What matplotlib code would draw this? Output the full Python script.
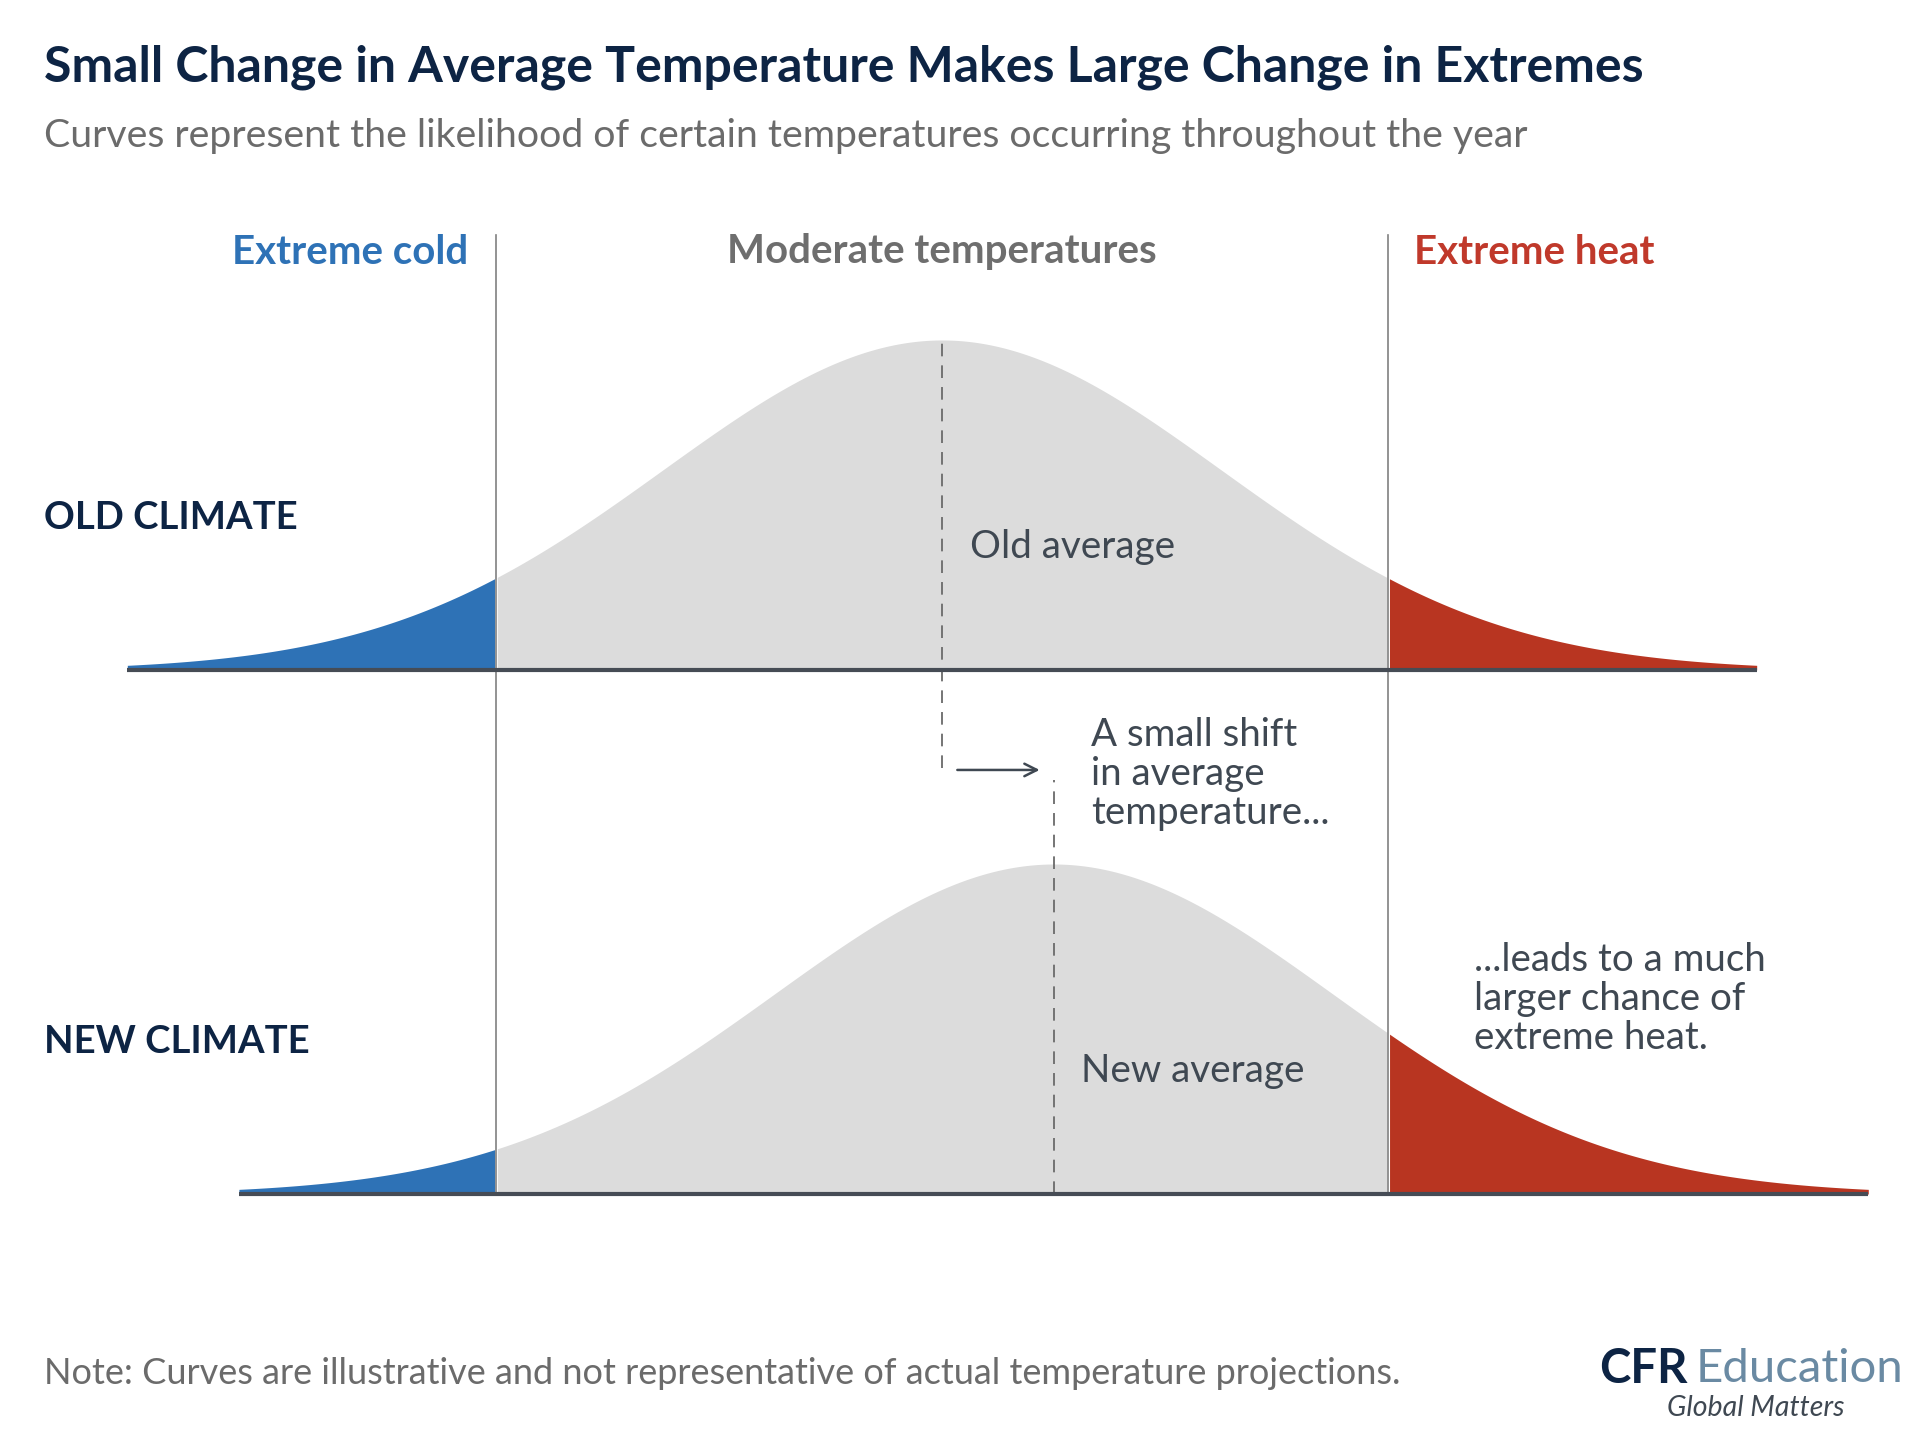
import numpy as np
import matplotlib.pyplot as plt

# illustrative bell curves, x in units of standard deviations
old_mean = 0.0
new_mean = 0.4
sigma = 1.0
cold_limit = -1.6
heat_limit = 1.6
tail_extent = 2.92          # curves drawn out to mean +/- this many sigma
old_base = 1.588            # vertical offset of the old-climate row
new_base = 0.0

title = "Small Change in Average Temperature Makes Large Change in Extremes"
subtitle = "Curves represent the likelihood of certain temperatures occurring throughout the year"
note = "Note: Curves are illustrative and not representative of actual temperature projections."

navy = "#0d2444"
blue = "#2e72b6"
red = "#b83521"
grey_fill = "#dcdcdc"
base_col = "#464c55"
text_col = "#3f4852"

W, H = 1920, 1437
fig = plt.figure(figsize=(W / 100, H / 100), dpi=100)
plt.rcParams['font.family'] = ['Lato', 'DejaVu Sans']
ax = fig.add_axes([0, 0, 1, 1])
# 1 sigma = 279 px, peak height = 330 px
ax.set_xlim(-942 / 279, (W - 942) / 279)
ax.set_ylim((1194 - H) / 330, 1194 / 330)
ax.axis('off')


def px(x, y):
    return x / W, 1 - y / H


def curve(mean, base):
    t = np.linspace(mean - tail_extent, mean + tail_extent, 600)
    y = np.exp(-0.5 * ((t - mean) / sigma) ** 2)
    cold = t <= cold_limit
    heat = t >= heat_limit
    mid = (t >= cold_limit) & (t <= heat_limit)
    ax.fill_between(t[mid], base, base + y[mid], color=grey_fill, lw=0, zorder=1)
    ax.fill_between(t[cold], base, base + y[cold], color=blue, lw=0, zorder=1)
    ax.fill_between(t[heat], base, base + y[heat], color=red, lw=0, zorder=1)
    ax.plot([t[0], t[-1]], [base, base], color=base_col, lw=3, zorder=3,
            solid_capstyle='butt')


curve(old_mean, old_base)
curve(new_mean, new_base)

# threshold lines
for xl in (cold_limit, heat_limit):
    ax.plot([xl, xl], [new_base, 2.906], color="#808080", lw=1.2, zorder=2)

# average lines
ax.plot([old_mean, old_mean], [1.29, old_base + 0.995], color="#6a6a6a", lw=1.3,
        ls=(0, (7, 5)), zorder=2)
ax.plot([new_mean, new_mean], [new_base, 1.255], color="#6a6a6a", lw=1.3,
        ls=(0, (7, 5)), zorder=2)
ax.annotate("", xy=(0.36, 1.285), xytext=(0.045, 1.285),
            arrowprops=dict(arrowstyle="->,head_length=0.9,head_width=0.45",
                            color=text_col, lw=1.8))

# titles
fig.text(*px(44, 67), title, fontsize=36, fontweight='bold', color=navy, va='center')
fig.text(*px(44, 136), subtitle, fontsize=28.3, color="#6b6b6b", va='center')

# zone headers
fig.text(*px(468, 252), "Extreme cold", fontsize=29, fontweight='bold', color=blue,
         ha='right', va='center')
fig.text(*px(942, 252), "Moderate temperatures", fontsize=29, fontweight='bold',
         color="#6e6e6e", ha='center', va='center')
fig.text(*px(1414, 252), "Extreme heat", fontsize=29, fontweight='bold', color="#c0392b",
         ha='left', va='center')

# row labels
fig.text(*px(44, 518), "OLD CLIMATE", fontsize=27.5, fontweight='bold', color=navy, va='center')
fig.text(*px(44, 1042), "NEW CLIMATE", fontsize=27.5, fontweight='bold', color=navy, va='center')

# annotations
fig.text(*px(970, 547), "Old average", fontsize=27.8, color=text_col, va='center')
fig.text(*px(1081, 1071), "New average", fontsize=27.8, color=text_col, va='center')
fig.text(*px(1091, 774), "A small shift\nin average\ntemperature...", fontsize=27.7,
         color=text_col, va='center', linespacing=1.12)
fig.text(*px(1474, 999), "...leads to a much\nlarger chance of\nextreme heat.", fontsize=27.7,
         color=text_col, va='center', linespacing=1.12)

# footer
fig.text(*px(44, 1374), note, fontsize=26, color="#6b6b6b", va='center')
fig.text(*px(1688, 1369), "CFR", fontsize=34, fontweight='bold', color=navy,
         ha='right', va='center')
fig.text(*px(1696, 1369), "Education", fontsize=34, color="#6a8aa3", ha='left', va='center')
fig.text(*px(1756, 1408), "Global Matters", fontsize=20.5, style='italic', color=text_col,
         ha='center', va='center')

fig.savefig("out.png", dpi=100, facecolor='white')
